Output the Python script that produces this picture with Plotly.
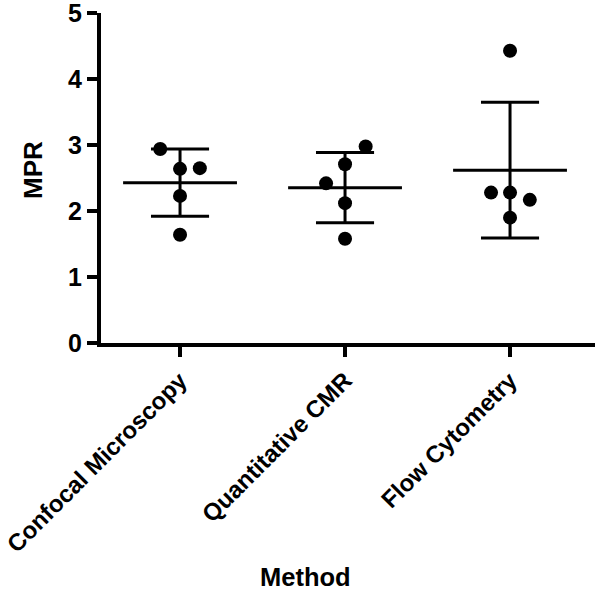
import plotly.graph_objects as go

categories = ["Confocal Microscopy", "Quantitative CMR", "Flow Cytometry"]

# individual MPR values per method
confocal = [2.94, 2.64, 2.65, 2.23, 1.64]
cmr = [2.98, 2.71, 2.42, 2.12, 1.58]
flow = [4.43, 2.28, 2.28, 2.17, 1.90]

# horizontal scatter offsets of each point (category units)
confocal_off = [-0.12, 0.0, 0.12, 0.0, 0.0]
cmr_off = [0.125, 0.0, -0.115, 0.0, 0.0]
flow_off = [0.0, -0.115, 0.0, 0.12, 0.0]

# mean and SD of each group
means = [2.43, 2.355, 2.62]
sds = [0.51, 0.533, 1.03]

y_ticks = [0, 1, 2, 3, 4, 5]

groups = [confocal, cmr, flow]
offsets = [confocal_off, cmr_off, flow_off]

fig = go.Figure()

MEAN_HALF = 0.345
CAP_HALF = 0.176
LW = 3

for i, (vals, offs) in enumerate(zip(groups, offsets)):
    m, s = means[i], sds[i]
    fig.add_trace(go.Scatter(x=[i - MEAN_HALF, i + MEAN_HALF], y=[m, m], mode="lines",
                             line=dict(color="black", width=LW), showlegend=False, hoverinfo="skip"))
    fig.add_trace(go.Scatter(x=[i, i], y=[m - s, m + s], mode="lines",
                             line=dict(color="black", width=LW), showlegend=False, hoverinfo="skip"))
    for yv in (m - s, m + s):
        fig.add_trace(go.Scatter(x=[i - CAP_HALF, i + CAP_HALF], y=[yv, yv], mode="lines",
                                 line=dict(color="black", width=LW), showlegend=False, hoverinfo="skip"))
    fig.add_trace(go.Scatter(x=[i + o for o in offs], y=vals, mode="markers",
                             marker=dict(color="black", size=14, line=dict(width=0)),
                             name=categories[i], showlegend=False))

font_family = "Liberation Sans, Arial, Helvetica, sans-serif"

fig.update_layout(
    width=600, height=591,
    margin=dict(l=101, r=5, t=13, b=248),
    paper_bgcolor="white", plot_bgcolor="white",
    font=dict(family=font_family, color="black"),
    xaxis=dict(
        range=[-0.479, 2.515],
        tickvals=[0, 1, 2], ticktext=categories,
        tickangle=-45, automargin=False, ticklabeloverflow="allow",
        tickfont=dict(size=24, weight="bold", family=font_family, color="black"),
        showline=True, linecolor="black", linewidth=4,
        ticks="outside", ticklen=10, tickwidth=4, tickcolor="black",
        showgrid=False, zeroline=False,
    ),
    yaxis=dict(
        range=[0, 5.002], automargin=False, ticklabeloverflow="allow",
        tickvals=y_ticks,
        tickfont=dict(size=25, weight="bold", family=font_family, color="black"),
        showline=True, linecolor="black", linewidth=4,
        ticks="outside", ticklen=10, tickwidth=4, tickcolor="black",
        showgrid=False, zeroline=False,
    ),
    annotations=[
        dict(text="Method", xref="paper", yref="paper", x=(305 - 101) / 494, y=(343 - 577) / 330,
             xanchor="center", yanchor="middle", showarrow=False,
             font=dict(size=25.5, weight="bold", family=font_family, color="black")),
        dict(text="MPR", xref="paper", yref="paper", x=(33 - 101) / 494, y=(343 - 170) / 330,
             xanchor="center", yanchor="middle", showarrow=False, textangle=-90,
             font=dict(size=26, weight="bold", family=font_family, color="black")),
    ],
)

fig.write_html("out.html", config={"displayModeBar": False},
               post_script="document.body.style.margin='0';document.body.style.padding='0';")
